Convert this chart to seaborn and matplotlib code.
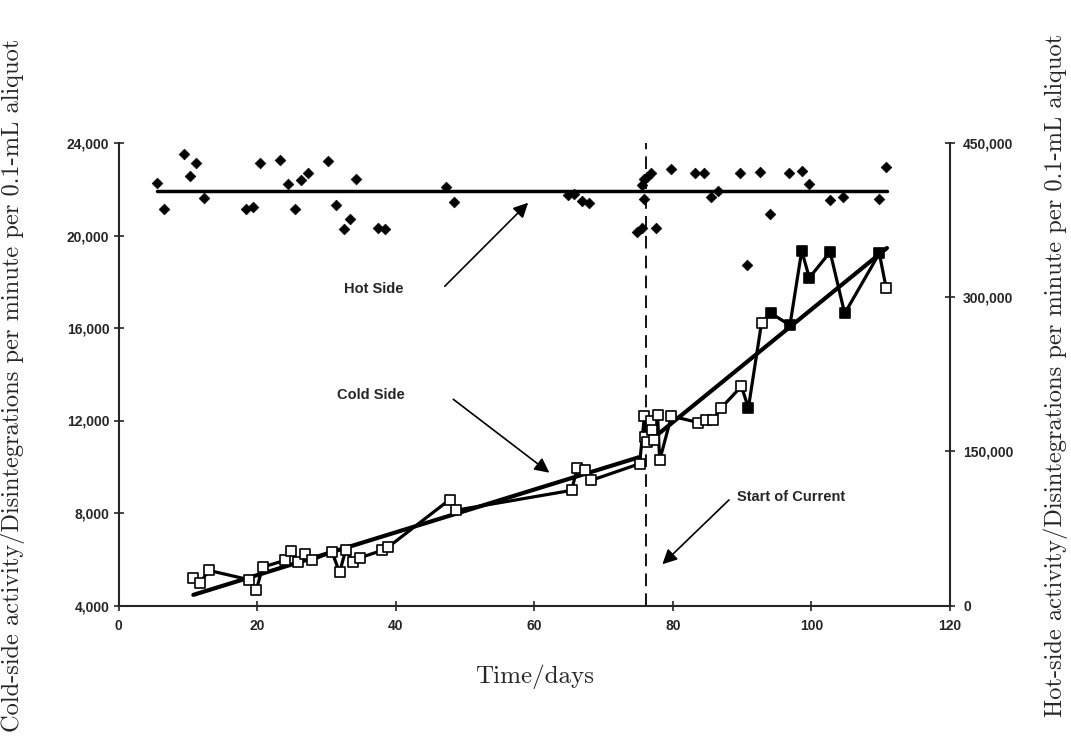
import matplotlib
matplotlib.use('Agg')
from matplotlib import pyplot as plt
from matplotlib.ticker import FuncFormatter
import pandas as pd
import seaborn as sns
import warnings
warnings.filterwarnings('ignore')

# hot side (right axis), diamonds
hot_days = [5.5, 6.5, 9.4, 10.3, 11.2, 12.4, 18.4, 19.4, 20.4, 23.3, 24.4, 25.5,
            26.4, 27.4, 30.3, 31.4, 32.5, 33.4, 34.3, 37.4, 38.5, 47.3, 48.4,
            64.9, 65.8, 66.9, 67.9, 74.9, 75.6, 75.6, 75.8, 75.9, 76.3, 76.9,
            77.6, 79.7, 83.2, 84.5, 85.5, 86.5, 89.7, 90.7, 92.6, 94.0, 96.7,
            98.6, 99.7, 102.7, 104.6, 109.7, 110.7]
hot_vals = [411000, 385700, 439300, 417900, 430600, 396400, 385700, 387700,
            430600, 433600, 410000, 385700, 414000, 420800, 432500, 389700,
            366000, 375700, 414900, 366900, 366000, 407100, 392500, 399300,
            400300, 393400, 391500, 363300, 367200, 409000, 395400, 414900,
            416900, 420800, 367200, 424900, 420800, 420800, 397400, 403200,
            420800, 331200, 421800, 380900, 420800, 422700, 410000, 394500,
            397400, 395400, 426600]
hot_fit_days = [5.5, 110.9]
hot_fit_vals = [403000, 403000]

# cold side (left axis), squares
cold_days = [10.8, 11.8, 13.0, 18.9, 19.9, 20.8, 24.0, 24.9, 25.9, 26.9, 27.9,
             30.8, 31.9, 32.8, 33.9, 34.9, 38.0, 38.9, 47.8, 48.7, 65.4, 66.2,
             67.3, 68.2, 75.2, 75.9, 76.0, 76.2, 76.9, 77.0, 77.3, 77.8, 78.1,
             79.8, 83.7, 84.8, 85.8, 86.9, 89.9, 90.9, 92.8, 94.1, 96.9, 98.6,
             99.7, 102.7, 104.8, 109.8, 110.8]
cold_vals = [5200, 4970, 5520, 5110, 4690, 5660, 5950, 6340, 5870, 6210, 5950,
             6330, 5430, 6410, 5870, 6070, 6380, 6520, 8580, 8120, 8980, 9960,
             9870, 9410, 10130, 12180, 11290, 11070, 11970, 11610, 11140, 12230,
             10280, 12190, 11910, 12010, 12010, 12520, 13480, 12540, 16220,
             16650, 16120, 19340, 18170, 19290, 16630, 19230, 17710]
cold_filled = [90.9, 94.1, 96.9, 98.6, 99.7, 102.7, 104.8, 109.8]
cold_fit1_days = [10.8, 75.2]
cold_fit1_vals = [4460, 10420]
cold_fit2_days = [76.0, 110.9]
cold_fit2_vals = [10950, 19460]

current_start = 76.1

left_ticks = [4000, 8000, 12000, 16000, 20000, 24000]
right_ticks = [0, 150000, 300000, 450000]
x_ticks = [0, 20, 40, 60, 80, 100, 120]

sns.set_style('ticks')
plt.rcParams['font.family'] = ['Liberation Sans', 'DejaVu Sans']

hot = pd.DataFrame({'day': hot_days, 'value': hot_vals})
cold = pd.DataFrame({'day': cold_days, 'value': cold_vals})
cold['filled'] = cold.day.isin(cold_filled)

fig = plt.figure(figsize=(10.71, 7.36), dpi=100)
ax = fig.add_axes([118.5 / 1071, 1 - 605.5 / 736, (950 - 118.5) / 1071, (605.5 - 143) / 736])
ax2 = ax.twinx()

# cold side
sns.lineplot(x=cold_fit1_days, y=cold_fit1_vals, color='black', lw=3, ax=ax)
sns.lineplot(x=cold_fit2_days, y=cold_fit2_vals, color='black', lw=3, ax=ax)
sns.lineplot(data=cold, x='day', y='value', estimator=None, sort=False,
             color='black', lw=2.3, ax=ax)
sns.scatterplot(data=cold[~cold.filled], x='day', y='value', marker='s', s=48,
                facecolor='white', edgecolor='black', linewidth=1.2, ax=ax, zorder=5)
sns.scatterplot(data=cold[cold.filled], x='day', y='value', marker='s', s=48,
                color='black', edgecolor='black', linewidth=1.2, ax=ax, zorder=5)

# hot side
sns.lineplot(x=hot_fit_days, y=hot_fit_vals, color='black', lw=2.5, ax=ax2)
sns.scatterplot(data=hot, x='day', y='value', marker='D', s=30, color='black',
                edgecolor='black', ax=ax2, zorder=5)

ax.axvline(current_start, color='black', lw=1.3, dashes=(7, 4))

ax.set_xlim(0, 120)
ax.set_ylim(4000, 24000)
ax2.set_ylim(0, 450000)
ax.set_xticks(x_ticks)
ax.set_yticks(left_ticks)
ax2.set_yticks(right_ticks)
fmt = FuncFormatter(lambda v, p: f'{int(v):,}')
ax.yaxis.set_major_formatter(fmt)
ax2.yaxis.set_major_formatter(fmt)

for a in (ax, ax2):
    a.tick_params(direction='inout', length=7, width=1.2, labelsize=10, pad=3)
    for lab in a.get_xticklabels() + a.get_yticklabels():
        lab.set_fontweight('bold')
ax.tick_params(axis='x', pad=6)
ax2.tick_params(axis='y', pad=6)

ax.spines['top'].set_visible(False)
ax.spines['right'].set_visible(False)
ax2.spines['top'].set_visible(False)
ax2.spines['left'].set_visible(False)
ax2.spines['bottom'].set_visible(False)
for sp in ('left', 'bottom'):
    ax.spines[sp].set_linewidth(1.5)
ax2.spines['right'].set_linewidth(1.5)

ax.set_xlabel('Time/days', labelpad=23, family='cmr10', fontsize=18)
ylab_font = dict(family='cmr10', fontsize=17.6)
ax.set_ylabel('Cold-side activity/Disintegrations per minute per 0.1-mL aliquot', **ylab_font)
ax2.set_ylabel('Hot-side activity/Disintegrations per minute per 0.1-mL aliquot', **ylab_font)
ax.yaxis.set_label_coords(-0.113, 0.476)
ax2.yaxis.set_label_coords(1.112, 0.498)

# annotations
note = dict(fontsize=10.5, fontweight='bold', va='center')
arrow = dict(arrowstyle='-|>', color='black', lw=1.2, mutation_scale=22)
ax.text(32.5, 17700, 'Hot Side', **note)
ax.annotate('', xy=(59.4, 21500), xytext=(46.8, 17720), arrowprops=arrow)
ax.text(31.5, 13100, 'Cold Side', **note)
ax.annotate('', xy=(62.5, 9670), xytext=(48.0, 12990), arrowprops=arrow)
ax.text(89.3, 8690, 'Start of Current', **note)
ax.annotate('', xy=(78.2, 5700), xytext=(88.4, 8650), arrowprops=arrow)

fig.savefig('out.png', dpi=100)
